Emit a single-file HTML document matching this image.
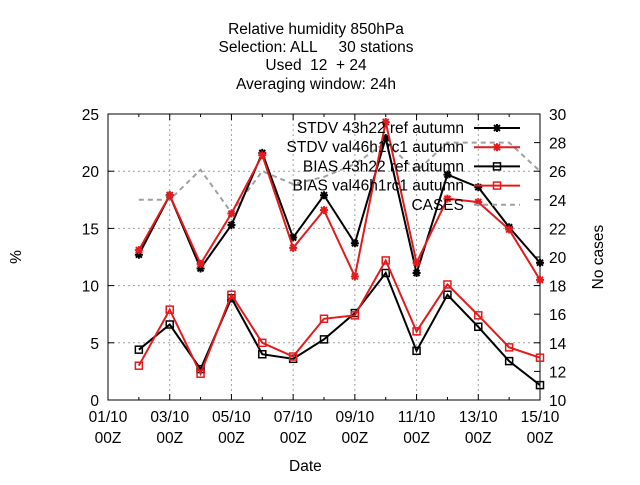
<!DOCTYPE html>
<html><head><meta charset="utf-8"><style>
body{margin:0;background:#fff}
svg text{font-family:"Liberation Sans",sans-serif;font-size:15.5px;fill:#000;white-space:pre}
</style></head><body>
<svg id="c" width="640" height="480">
<g>
<text x="316" y="34" text-anchor="middle">Relative humidity 850hPa</text>
<text x="316" y="52" text-anchor="middle">Selection: ALL     30 stations</text>
<text x="316" y="70" text-anchor="middle">Used  12  + 24</text>
<text x="316" y="89" text-anchor="middle">Averaging window: 24h</text>
</g>
<g id="grid"></g><g id="axes"></g><g id="series"></g><g id="legend"></g>
<text x="289" y="471">Date</text>
<text transform="translate(21,257) rotate(-90)" text-anchor="middle">%</text>
<text transform="translate(603,257) rotate(-90)" text-anchor="middle">No cases</text>
</svg>
<script>
const days=[2,3,4,5,6,7,8,9,10,11,12,13,14,15];
const stdvRef=[12.7,17.9,11.5,15.3,21.6,14.2,17.9,13.7,22.9,11.1,19.7,18.6,15.1,12.0];
const stdvVal=[13.1,17.9,11.9,16.3,21.4,13.3,16.6,10.8,24.3,12.0,17.6,17.3,14.9,10.5];
const biasRef=[4.4,6.6,2.7,8.9,4.0,3.6,5.3,7.6,11.1,4.3,9.2,6.4,3.4,1.3];
const biasVal=[3.0,7.9,2.3,9.2,5.0,3.8,7.1,7.4,12.2,6.0,10.1,7.4,4.6,3.7];
const cases=[24,24,26.1,23.1,26,25.1,25.6,26.5,28,26,28,28,28,26];
const yTicks=[0,5,10,15,20,25];
const y2Ticks=[10,12,14,16,18,20,22,24,26,28,30];
const xTickDays=[1,3,5,7,9,11,13,15];
const xTickLabels=["01/10","03/10","05/10","07/10","09/10","11/10","13/10","15/10"];
const L=108,R=540,T=114,B=400;
const X=d=>L+(d-1)*(R-L)/14, Y=v=>B-v*(B-T)/25, Y2=v=>B-(v-10)*(B-T)/20;
const NS="http://www.w3.org/2000/svg";
function mk(p,t,a){const e=document.createElementNS(NS,t);for(const k in a)e.setAttribute(k,a[k]);p.appendChild(e);return e;}
const g=document.getElementById('grid'),ax=document.getElementById('axes'),s=document.getElementById('series'),lg=document.getElementById('legend');
yTicks.forEach(v=>{if(v>0&&v<25){const l=mk(g,'line',{x1:L,x2:R,y1:Y(v),y2:Y(v),stroke:'#a0a0a0','stroke-dasharray':'2,3'});}
 const t=mk(ax,'text',{x:L-9,y:Y(v)+6,'text-anchor':'end'});t.textContent=v;
 mk(ax,'line',{x1:L,x2:L+6,y1:Y(v),y2:Y(v),stroke:'#000'});});
y2Ticks.forEach(v=>{const t=mk(ax,'text',{x:R+9,y:Y2(v)+6});t.textContent=v;
 mk(ax,'line',{x1:R-6,x2:R,y1:Y2(v),y2:Y2(v),stroke:'#000'});});
for(let d=1;d<=15;d++){const big=xTickDays.includes(d);mk(ax,'line',{x1:X(d),x2:X(d),y1:B,y2:B-(big?6:3),stroke:'#000'});mk(ax,'line',{x1:X(d),x2:X(d),y1:T,y2:T+(big?6:3),stroke:'#000'});}
xTickDays.forEach((d,i)=>{if(d>1&&d<15){const l=mk(g,'line',{x1:X(d),x2:X(d),y1:T,y2:B,stroke:'#a0a0a0','stroke-dasharray':'2,3'});}
 const t=mk(ax,'text',{x:X(d),y:B+22,'text-anchor':'middle'});t.textContent=xTickLabels[i];
 const t2=mk(ax,'text',{x:X(d),y:B+43,'text-anchor':'middle'});t2.textContent="00Z";});
const fr=mk(ax,'rect',{x:L,y:T,width:R-L,height:B-T,fill:'none',stroke:'#000'});

function star(p,x,y,c){mk(p,'path',{d:`M${x-4},${y}H${x+4}M${x},${y-4}V${y+4}M${x-3},${y-3}L${x+3},${y+3}M${x-3},${y+3}L${x+3},${y-3}`,stroke:c,'stroke-width':2});}
function sq(p,x,y,c){mk(p,'rect',{x:x-3.5,y:y-3.5,width:7,height:7,fill:'none',stroke:c,'stroke-width':1.5});}
function series(vals,c,mark,name,yf){const gg=mk(s,'g',{});
 const pts=vals.map((v,i)=>X(days[i])+','+yf(v)).join(' ');
 mk(gg,'polyline',{points:pts,fill:'none',stroke:c,'stroke-width':2,'stroke-dasharray':mark?'':'5,4'});
 if(mark)vals.forEach((v,i)=>mark(gg,X(days[i]),yf(v),c));}
series(cases,'#a0a0a0',null,'cases-line',Y2);
series(biasRef,'#000',sq,'bias-ref-line',Y);
series(biasVal,'#e41a1c',sq,'bias-val-line',Y);
series(stdvRef,'#000',star,'stdv-ref-line',Y);
series(stdvVal,'#e41a1c',star,'stdv-val-line',Y);
const leg=[["STDV 43h22 ref autumn",'#000',star],["STDV val46h1rc1 autumn",'#e41a1c',star],["BIAS 43h22 ref autumn",'#000',sq],["BIAS val46h1rc1 autumn",'#e41a1c',sq],["CASES",'#a0a0a0',null]];
leg.forEach((e,i)=>{const y=128+i*19.2;const gg=mk(lg,'g',{});
 const t=mk(gg,'text',{x:464,y:y+5,'text-anchor':'end'});t.textContent=e[0];
 mk(gg,'line',{x1:474,x2:520,y1:y,y2:y,stroke:e[1],'stroke-width':2,'stroke-dasharray':e[2]?'':'5,4'});
 if(e[2])e[2](gg,497,y,e[1]);});
</script>
</body></html>
